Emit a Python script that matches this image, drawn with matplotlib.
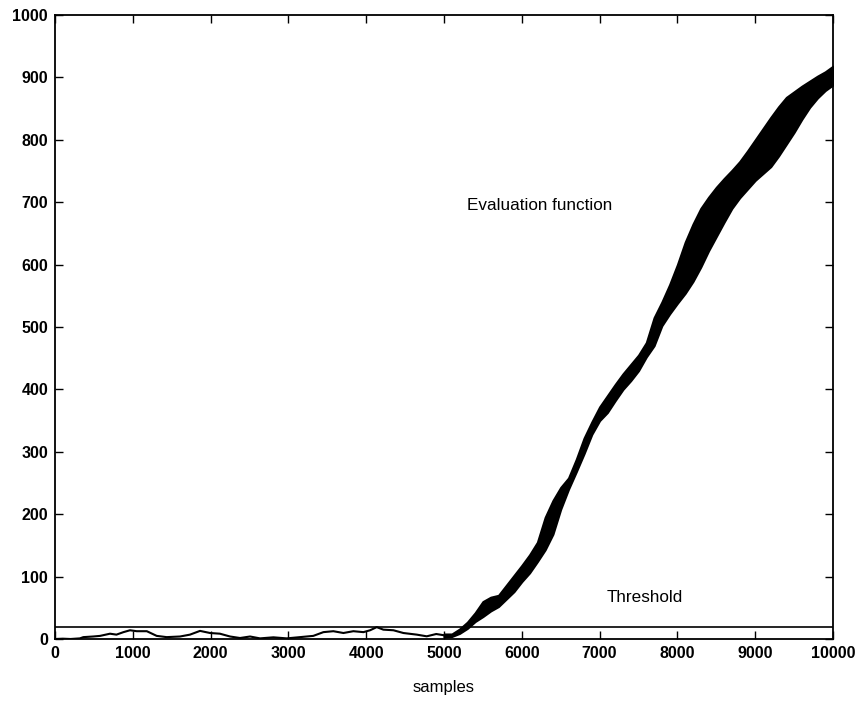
import matplotlib
matplotlib.use("Agg")
import matplotlib.pyplot as plt

# ---- data ----
low_x = [0, 100, 200, 320, 364, 490, 580, 707, 790, 880, 964, 1050, 1180, 1307, 1435,
         1607, 1735, 1864, 1993, 2120, 2250, 2378, 2507, 2635, 2807, 2978, 3150,
         3320, 3450, 3578, 3707, 3835, 3964, 4050, 4135, 4220, 4350, 4478, 4650,
         4778, 4900, 5000, 5100]
low_y = [0, 0.5, 0, 1, 3, 4, 5, 8.5, 7, 11, 14, 12.5, 12.5, 5, 3,
         4, 7, 13, 9.6, 8.5, 4, 1.6, 4, 1, 2.7, 1, 3,
         5, 11, 12.5, 9.6, 12.5, 11, 14, 19, 15, 14, 9.6, 7,
         4.3, 8, 6, 5]

band_x = [5000, 5100, 5200, 5300, 5400, 5500, 5600, 5700, 5800, 5900, 6000, 6100,
          6200, 6300, 6400, 6500, 6600, 6700, 6800, 6900, 7000, 7100, 7200, 7300,
          7400, 7500, 7600, 7700, 7800, 7900, 8000, 8100, 8200, 8300, 8400, 8500,
          8600, 8700, 8800, 8900, 9000, 9100, 9200, 9300, 9400, 9500, 9600, 9700,
          9800, 9900, 10000]
band_upper = [8, 8, 16, 27, 42, 60, 67, 70, 86, 102, 118, 135,
              155, 195, 222, 243, 258, 288, 322, 348, 372, 390, 408, 425,
              440, 455, 475, 515, 540, 568, 600, 636, 665, 690, 708, 724,
              738, 751, 765, 782, 800, 818, 836, 853, 868, 877, 886, 894,
              902, 909, 918]
band_lower = [3, 4, 9, 17, 28, 36, 45, 52, 64, 76, 92, 106,
              124, 143, 168, 208, 240, 268, 297, 328, 350, 363, 382, 400,
              414, 430, 452, 470, 502, 521, 538, 554, 573, 596, 622, 645,
              668, 690, 707, 721, 735, 746, 757, 774, 793, 812, 833, 852,
              867, 879, 888]

threshold = 20
x_ticks = [0, 1000, 2000, 3000, 4000, 5000, 6000, 7000, 8000, 9000, 10000]
y_ticks = [0, 100, 200, 300, 400, 500, 600, 700, 800, 900, 1000]

plt.rcParams['font.family'] = ['Liberation Sans', 'DejaVu Sans']

fig = plt.figure(figsize=(8.6, 7.03), dpi=100)
ax = fig.add_axes([55/860, 1-639/703, (833-55)/860, (639-15)/703])

ax.plot(low_x, low_y, color='black', lw=1.5)
ax.fill_between(band_x, band_lower, band_upper, color='black', lw=1.5, edgecolor='black')
ax.axhline(threshold, color='black', lw=1.2)

ax.set_xlim(0, 10000)
ax.set_ylim(0, 1000)
ax.set_xticks(x_ticks)
ax.set_yticks(y_ticks)
ax.tick_params(direction='in', length=6, width=1, top=True, right=True,
               labelsize=11.5, pad=5)
for lab in ax.get_xticklabels() + ax.get_yticklabels():
    lab.set_fontweight('bold')
for s in ax.spines.values():
    s.set_linewidth(1.3)

ax.text(5296, 695, 'Evaluation function', fontsize=12.3, va='center', ha='left')
ax.text(7095, 66, 'Threshold', fontsize=12.3, va='center', ha='left')
ax.set_xlabel('samples', fontsize=12, labelpad=14)

fig.savefig('out.png', dpi=100)
